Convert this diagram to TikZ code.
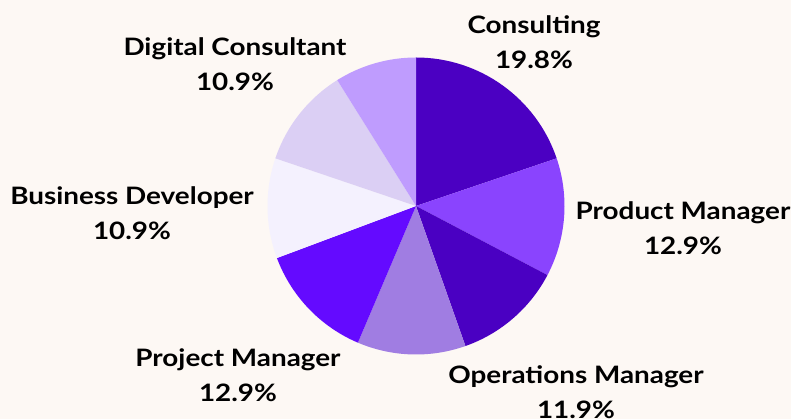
\documentclass[tikz,border=0pt]{standalone}
\usepackage{fontspec}
\setmainfont{Lato}[FakeStretch=1.16]
\usepackage{tikz}

\definecolor{bgcream}{HTML}{FDF8F4}
\definecolor{consultc}{HTML}{4B00C2}
\definecolor{productc}{HTML}{8A44FE}
\definecolor{operc}{HTML}{4A00C2}
\definecolor{lavc}{HTML}{A07DE2}
\definecolor{projectc}{HTML}{640AFF}
\definecolor{businessc}{HTML}{F4F1FE}
\definecolor{lightlavc}{HTML}{DBCFF4}
\definecolor{digitalc}{HTML}{BF9CFE}

\newcommand{\pieR}{148.5}

\begin{document}
\begin{tikzpicture}[x=1pt,y=1pt,
  lbl/.style={align=center,font=\fontsize{24}{35}\selectfont\bfseries,text=black}]
\fill[bgcream] (0,0) rectangle (791,419);
\useasboundingbox (0,0) rectangle (791,419);

\coordinate (ctr) at (416,213);

% slices, clockwise from the top
\fill[consultc] (ctr) -- ++(90:\pieR) arc[start angle=90,end angle=18.72,radius=\pieR] -- cycle;
\fill[productc] (ctr) -- ++(18.72:\pieR) arc[start angle=18.72,end angle=-27.72,radius=\pieR] -- cycle;
\fill[operc] (ctr) -- ++(-27.72:\pieR) arc[start angle=-27.72,end angle=-70.56,radius=\pieR] -- cycle;
\fill[lavc] (ctr) -- ++(-70.56:\pieR) arc[start angle=-70.56,end angle=-113.04,radius=\pieR] -- cycle;
\fill[projectc] (ctr) -- ++(-113.04:\pieR) arc[start angle=-113.04,end angle=-159.48,radius=\pieR] -- cycle;
\fill[businessc] (ctr) -- ++(-159.48:\pieR) arc[start angle=-159.48,end angle=-198.72,radius=\pieR] -- cycle;
\fill[lightlavc] (ctr) -- ++(-198.72:\pieR) arc[start angle=-198.72,end angle=-237.96,radius=\pieR] -- cycle;
\fill[digitalc] (ctr) -- ++(-237.96:\pieR) arc[start angle=-237.96,end angle=-270,radius=\pieR] -- cycle;

% labels
\node[lbl] (consulting) at (534,376.5) {Consulting\\19.8\%};
\node[lbl] (digital) at (235,354.5) {Digital Consultant\\10.9\%};
\node[lbl] (business) at (132,206) {Business Developer\\10.9\%};
\node[lbl] (product) at (683,190.5) {Product Manager\\12.9\%};
\node[lbl] (project) at (238,43.5) {Project Manager\\12.9\%};
\node[lbl] (operations) at (576,26.5) {Operations Manager\\11.9\%};
\end{tikzpicture}
\end{document}
